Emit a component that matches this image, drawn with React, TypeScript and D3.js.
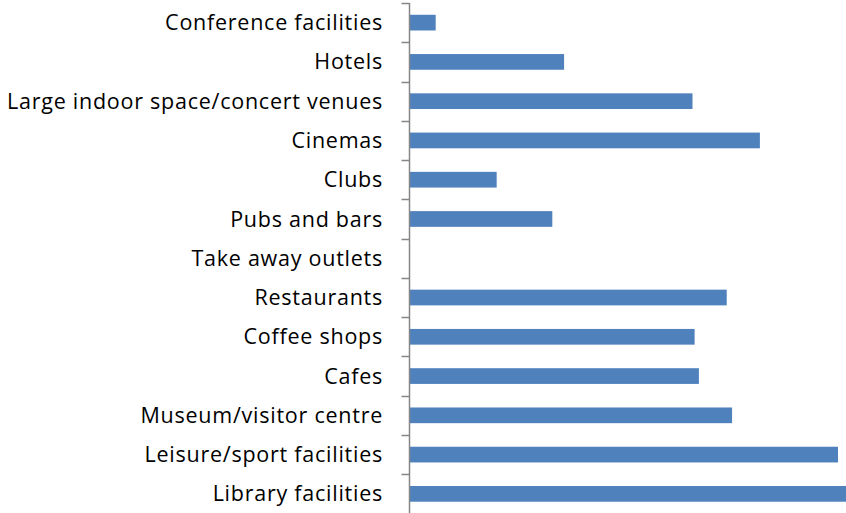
import React, { useRef, useEffect } from "react";
import * as d3 from "d3";

// categories, top to bottom as in the chart
const categories = [
  "Conference facilities",
  "Hotels",
  "Large indoor space/concert venues",
  "Cinemas",
  "Clubs",
  "Pubs and bars",
  "Take away outlets",
  "Restaurants",
  "Coffee shops",
  "Cafes",
  "Museum/visitor centre",
  "Leisure/sport facilities",
  "Library facilities",
];

// estimated values (%)
const values = [2.4, 14.4, 26.4, 32.7, 8.1, 13.3, 0, 29.6, 26.6, 27.0, 30.1, 40.0, 41.5];

const W = 846;
const H = 513;

export default function App() {
  const svgRef = useRef<SVGSVGElement>(null);

  useEffect(() => {
    const svg = d3.select(svgRef.current);
    svg.selectAll("*").remove();

    const margin = { left: 409.5, top: 3, bottom: 0 };
    const data = categories.map((c, i) => ({ cat: c, value: values[i] }));

    const x = d3.scaleLinear().domain([0, 50]).range([margin.left + 0.5, margin.left + 0.5 + 535]);

    const y = d3
      .scaleBand()
      .domain(categories)
      .range([margin.top, H + 0.5 - margin.bottom])
      .paddingInner(0.6)
      .paddingOuter(0.3);

    const yTicks = d3
      .scaleLinear()
      .domain([0, categories.length])
      .range([margin.top, H + 0.5]);

    // bars
    svg
      .append("g")
      .selectAll("rect")
      .data(data)
      .join("rect")
      .attr("x", x(0))
      .attr("y", (d) => y(d.cat)!)
      .attr("width", (d) => x(d.value) - x(0))
      .attr("height", y.bandwidth())
      .attr("fill", "#4F81BD");

    // axis line + ticks between categories
    const axis = svg.append("g").attr("stroke", "#868686").attr("stroke-width", 1.5);
    axis
      .append("line")
      .attr("x1", margin.left)
      .attr("x2", margin.left)
      .attr("y1", yTicks(0))
      .attr("y2", H);
    axis
      .selectAll("line.tick")
      .data(d3.range(categories.length + 1))
      .join("line")
      .attr("class", "tick")
      .attr("x1", margin.left - 8)
      .attr("x2", margin.left)
      .attr("y1", (d) => Math.round(yTicks(d)) + 0.5)
      .attr("y2", (d) => Math.round(yTicks(d)) + 0.5);

    // labels
    svg
      .append("g")
      .selectAll("text")
      .data(categories)
      .join("text")
      .attr("x", 383)
      .attr("y", (d) => y(d)! + y.bandwidth() / 2)
      .attr("dy", "0.35em")
      .attr("text-anchor", "end")
      .attr("font-family", "'Open Sans', sans-serif")
      .attr("font-size", 21.5)
      .attr("letter-spacing", 0.75)
      .attr("fill", "#000")
      .text((d) => d);
  }, []);

  return (
    <svg
      ref={svgRef}
      width={W}
      height={H}
      style={{ position: "absolute", left: 0, top: 0, background: "#fff" }}
    ></svg>
  );
}
